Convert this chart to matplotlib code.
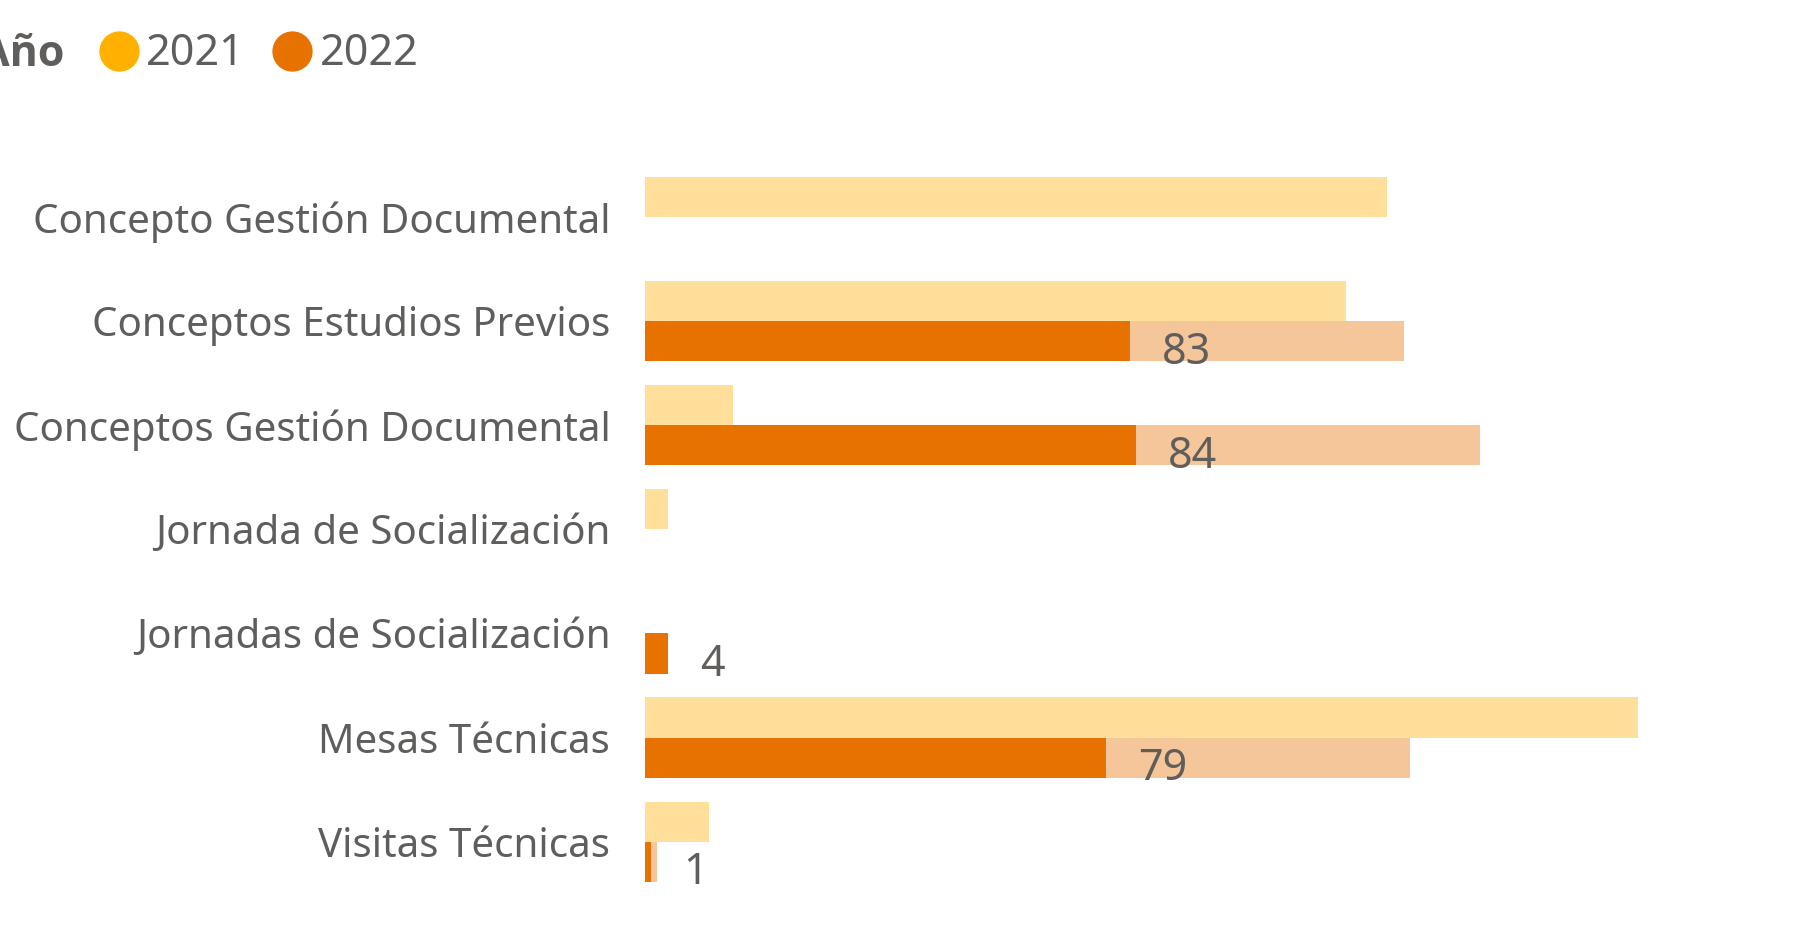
import numpy as np
import matplotlib.pyplot as plt
from matplotlib.lines import Line2D

plt.rcParams['font.family'] = ['Noto Sans', 'DejaVu Sans']

categorias = ['Concepto Gestión Documental', 'Conceptos Estudios Previos',
              'Conceptos Gestión Documental', 'Jornada de Socialización',
              'Jornadas de Socialización', 'Mesas Técnicas', 'Visitas Técnicas']
valores_2021 = [127, 120, 15, 4, 0, 170, 11]
total_2022 = [0, 130, 143, 0, 4, 131, 2]
resaltado_2022 = [0, 83, 84, 0, 4, 79, 1]

color_2021 = '#FFB000'
color_2022 = '#E87200'
gris = '#605E5C'

W, H = 1793, 931
fig = plt.figure(figsize=(W / 100, H / 100), dpi=100)
ax = fig.add_axes([645 / W, 1 - 893.6 / H, (1700 - 645) / W, (893.6 - 165.3) / H])

y = np.arange(len(categorias))
h = 0.385
ax.barh(y - h / 2, valores_2021, height=h, color=color_2021, alpha=0.4)
ax.barh(y + h / 2, total_2022, height=h, color=color_2022, alpha=0.4)
ax.barh(y + h / 2, resaltado_2022, height=h, color=color_2022)

for i, v in enumerate(resaltado_2022):
    if v:
        ax.annotate(str(v), (v, i + h / 2), xytext=(23, -8), textcoords='offset points',
                    va='center', ha='left', fontsize=31, color=gris)

ax.set_ylim(len(categorias) - 0.5, -0.5)
ax.set_xlim(0, 180.6)
ax.set_yticks(y)
ax.set_yticklabels(categorias, fontsize=29, color=gris)
ax.tick_params(axis='y', length=0, pad=25)
ax.set_xticks([])
for s in ax.spines.values():
    s.set_visible(False)

# leyenda
ly = 1 - 51 / H
fig.text(64 / W, 1 - 54 / H, 'Año', ha='right', va='center', fontsize=31,
         family=['Open Sans', 'DejaVu Sans'], weight='bold', color=gris)
for xc, xt, c, t in [(119, 146, color_2021, '2021'), (292, 320, color_2022, '2022')]:
    fig.add_artist(Line2D([xc / W], [ly], marker='o', markersize=28, color=c,
                          linestyle='none', transform=fig.transFigure))
    fig.text(xt / W, 1 - 54 / H, t, ha='left', va='center', fontsize=31, color=gris)

fig.savefig('out.png', dpi=100)
